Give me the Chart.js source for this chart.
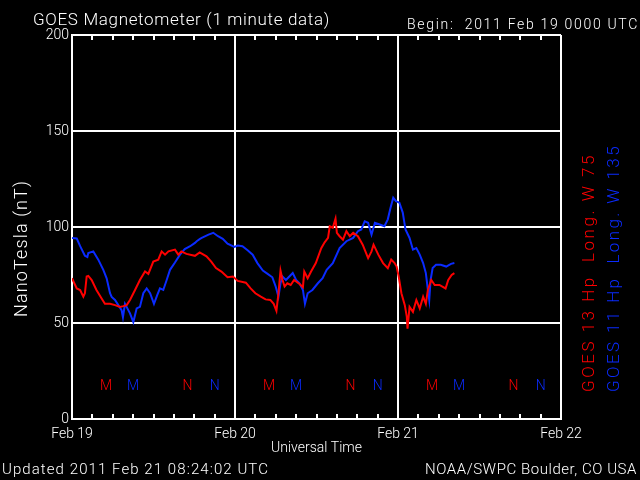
<!DOCTYPE html>
<html>
<head>
<meta charset="utf-8">
<script src="https://cdn.jsdelivr.net/npm/chart.js@4.4.1/dist/chart.umd.min.js"></script>
<style>
  html, body { margin: 0; background: #000; }
  canvas { display: block; }
</style>
</head>
<body>
<canvas id="mag" width="640" height="480"></canvas>
<script>
// hours since 2011 Feb 19 00:00 UT, field in nT
const redHours = [0, 0.7, 1.2, 1.67, 1.9, 2.16, 2.4, 2.9, 3.6, 4.36, 4.85, 5.6, 6.33, 7.07, 7.56, 8.05, 8.54, 9.28, 10, 10.75,
  11.24, 11.97, 12.7, 13.2, 13.7, 14.2, 15.16, 15.65, 16.1, 16.85, 18.1, 18.8, 19.8, 20.5, 21.2, 22, 22.9, 23.7, 24.4, 25.6,
  26.3, 27, 27.8, 28.5, 29.2, 29.7, 30.1, 30.4, 30.7, 31, 31.3, 31.7, 32.2, 32.7, 33.5, 34, 34.2, 34.7, 35.2, 35.9,
  36.7, 37.2, 37.7, 37.95, 38.4, 38.8, 39, 39.4, 39.9, 40.4, 40.9, 41.4, 42.1, 42.8, 43.6, 44.1, 44.4, 45.1, 45.8, 46.5,
  47, 47.5, 47.8, 48.1, 48.5, 49, 49.3, 49.4, 49.7, 50.2, 50.7, 51.2, 51.7, 52.1, 52.4, 52.9, 53.4, 54.1, 55, 55.4, 55.9, 56.3];
const redValues = [73.3, 68, 67.2, 63.7, 65.5, 74.2, 74.5, 72.4, 67.2, 62.8, 60, 60, 59.3, 58.4, 58.8, 59.3, 62, 67.2, 72.4, 76.8,
  75.6, 82, 83, 87.3, 85.6, 87.3, 88.2, 85.6, 87.3, 86, 85, 86.8, 84.7, 82, 78.6, 76.8, 73.8, 74.2, 71.9, 71,
  68, 65.5, 63.7, 62.3, 62, 60, 56.3, 65.5, 77.3, 72.4, 69, 70.7, 69.8, 72.4, 70.3, 68.6, 76.8, 73.3, 76.8, 81.2,
  89, 92, 94.3, 100.4, 99.6, 104.3, 97, 95.2, 93.4, 97.8, 95.2, 97, 95.2, 90.8, 83.8, 87.3, 90.8, 85.6, 81.2, 78.6,
  83, 81.2, 79.4, 74.2, 65.5, 59.3, 53.2, 47, 58.4, 55.8, 62, 57.6, 63.7, 60, 67.2, 72.4, 69.8, 69.8, 68, 72.4, 75, 76];

const blueHours = [0, 0.7, 1.2, 1.9, 2.26, 2.4, 3.14, 3.87, 4.61, 5.1, 5.6, 5.84, 6.33, 7.3, 7.5, 7.8, 8.54, 9.03, 9.52, 10,
  10.5, 11, 11.5, 12.07, 12.56, 12.95, 13.44, 13.94, 14.43, 15.16, 15.9, 16.6, 17.4, 18.1, 18.36, 18.84, 19.1, 20.1, 20.8, 21.5,
  22.2, 22.9, 23.9, 24.4, 25.1, 25.9, 26.6, 27.3, 28.1, 28.8, 29.5, 30, 30.4, 30.7, 31, 31.5, 32, 32.5, 33, 33.5,
  34, 34.3, 34.7, 35.4, 36.2, 36.9, 37.5, 38.4, 39.4, 40.4, 41.4, 42.1, 42.6, 43.1, 43.6, 44.1, 44.6, 45.3, 46, 46.5,
  46.9, 47.3, 47.7, 48.2, 48.7, 49.1, 49.7, 50.2, 50.7, 51.2, 51.7, 52.1, 52.4, 52.6, 52.8, 53.1, 53.6, 54.3, 55.1, 55.8, 56.3];
const blueValues = [94.3, 94, 90, 85, 84.4, 86.4, 87.3, 83, 77.7, 73.3, 65.5, 63.6, 62, 56.7, 53, 60, 55, 50.5, 57.6, 58.4,
  65.5, 68, 65.5, 60, 64.6, 68, 67.2, 72.4, 77.7, 81.5, 85.6, 88.5, 90, 91.7, 92.6, 93.8, 94.3, 96, 97, 95.2,
  93.8, 91.3, 89.6, 90.3, 90, 87.8, 85.6, 81.2, 77.3, 75.6, 73.8, 68.9, 63.7, 70.7, 74.2, 72.4, 74.2, 76, 72.4, 70.7,
  67.2, 60, 65.5, 67.2, 70.7, 73.3, 77.7, 81.2, 89, 92.6, 94.3, 97.8, 98.7, 103, 102.2, 96, 102.2, 101.3, 100.4, 104,
  110, 115.3, 113.5, 112.7, 107.5, 98.7, 94.3, 88.2, 89, 85.6, 81.2, 76, 67.2, 62, 72.4, 78.6, 80.3, 80.3, 79.4, 80.8, 81.2];

const dayLabels = ['Feb 19', 'Feb 20', 'Feb 21', 'Feb 22'];

// local midnight (M) and noon (N) marks, hours UT
const redMHours = [5, 29, 53];
const redNHours = [17, 41, 65];
const blueMHours = [9, 33, 57];
const blueNHours = [21, 45, 69];
const markLevel = 17;

const RED = '#ff0000';
const BLUE = '#0a2bff';
const FONT = 'Roboto, "Liberation Sans", Arial, sans-serif';
const WEIGHT = 300;

Chart.defaults.font.family = FONT;
Chart.defaults.font.weight = WEIGHT;
Chart.defaults.color = '#fff';

function pts(hs, vs) {
  return hs.map((h, i) => ({ x: h, y: vs[i] }));
}

// draw text stretched to a given width with letter spacing
function fitText(ctx, text, x, y, width, size, color) {
  ctx.font = WEIGHT + ' ' + size + 'px ' + FONT;
  ctx.letterSpacing = '0px';
  const w = ctx.measureText(text).width;
  const sp = (width - w) / text.length;
  ctx.letterSpacing = sp + 'px';
  ctx.fillStyle = color;
  ctx.fillText(text, x, y);
  ctx.letterSpacing = '0px';
}

const extras = {
  id: 'extras',
  beforeDraw(chart) {
    const ctx = chart.ctx;
    ctx.save();
    ctx.fillStyle = '#000';
    ctx.fillRect(0, 0, chart.width, chart.height);
    ctx.restore();
  },
  afterDraw(chart) {
    const ctx = chart.ctx;
    const xs = chart.scales.x, ys = chart.scales.y;
    const a = chart.chartArea;
    ctx.save();

    // 3-hour minor ticks on top and bottom
    ctx.strokeStyle = '#fff';
    ctx.lineWidth = 2;
    ctx.beginPath();
    for (let h = 3; h < 72; h += 3) {
      const px = Math.round(xs.getPixelForValue(h));
      ctx.moveTo(px, a.top); ctx.lineTo(px, a.top + 5);
      ctx.moveTo(px, a.bottom); ctx.lineTo(px, a.bottom - 5);
    }
    ctx.stroke();

    // M / N marks
    ctx.font = WEIGHT + ' 14px ' + FONT;
    ctx.textAlign = 'center';
    ctx.textBaseline = 'middle';
    const my = ys.getPixelForValue(markLevel);
    const marks = [[redMHours, 'M', RED], [redNHours, 'N', RED], [blueMHours, 'M', BLUE], [blueNHours, 'N', BLUE]];
    marks.forEach(([hs, t, c]) => {
      ctx.fillStyle = c;
      hs.forEach(h => ctx.fillText(t, xs.getPixelForValue(h), my));
    });

    // header and footer
    ctx.textAlign = 'left';
    ctx.textBaseline = 'alphabetic';
    fitText(ctx, 'GOES Magnetometer (1 minute data)', 33, 25, 297, 17, '#fff');
    fitText(ctx, 'Begin:  2011 Feb 19 0000 UTC', 407, 28.5, 232, 14, '#fff');
    fitText(ctx, 'Updated 2011 Feb 21 08:24:02 UTC', 2, 474, 267, 15, '#fff');
    fitText(ctx, 'NOAA/SWPC Boulder, CO USA', 425, 474, 212, 15, '#fff');

    // rotated y title and satellite legend
    ctx.textBaseline = 'middle';
    const rot = (text, x, y, w, size, color) => {
      ctx.save();
      ctx.translate(x, y);
      ctx.rotate(-Math.PI / 2);
      fitText(ctx, text, 0, 0, w, size, color);
      ctx.restore();
    };
    rot('NanoTesla (nT)', 22, 317, 137, 18, '#fff');
    rot('GOES 13 Hp  Long. W 75', 590, 392, 239, 17, RED);
    rot('GOES 11 Hp  Long. W 135', 614.5, 392, 248, 17, BLUE);

    ctx.restore();
  }
};

new Chart(document.getElementById('mag'), {
  type: 'line',
  data: {
    datasets: [{
      data: pts(redHours, redValues),
      borderColor: RED,
      borderWidth: 2,
      pointRadius: 0,
      tension: 0
    }, {
      data: pts(blueHours, blueValues),
      borderColor: BLUE,
      borderWidth: 2,
      pointRadius: 0,
      tension: 0
    }]
  },
  options: {
    responsive: false,
    animation: false,
    layout: { padding: { top: 35, right: 79, left: 0, bottom: 0 } },
    plugins: { legend: { display: false }, tooltip: { enabled: false } },
    scales: {
      x: {
        type: 'linear',
        min: 0,
        max: 72,
        z: 1,
        afterFit: s => { s.height = 61; },
        ticks: {
          stepSize: 24,
          callback: v => dayLabels[v / 24],
          color: '#fff',
          font: { size: 14 },
          padding: 7,
          maxRotation: 0,
          autoSkip: false
        },
        grid: { color: '#fff', lineWidth: 2, drawTicks: false },
        border: { color: '#fff', width: 2 },
        title: {
          display: true,
          text: 'Universal Time',
          color: '#fff',
          font: { size: 14 },
          padding: { top: 0, bottom: 23 }
        }
      },
      y: {
        min: 0,
        max: 200,
        z: 1,
        afterFit: s => { s.width = 72; },
        ticks: { stepSize: 50, color: '#fff', font: { size: 14 }, padding: 3 },
        grid: { color: '#fff', lineWidth: 2, drawTicks: false },
        border: { color: '#fff', width: 2 }
      }
    }
  },
  plugins: [extras]
});
</script>
</body>
</html>
